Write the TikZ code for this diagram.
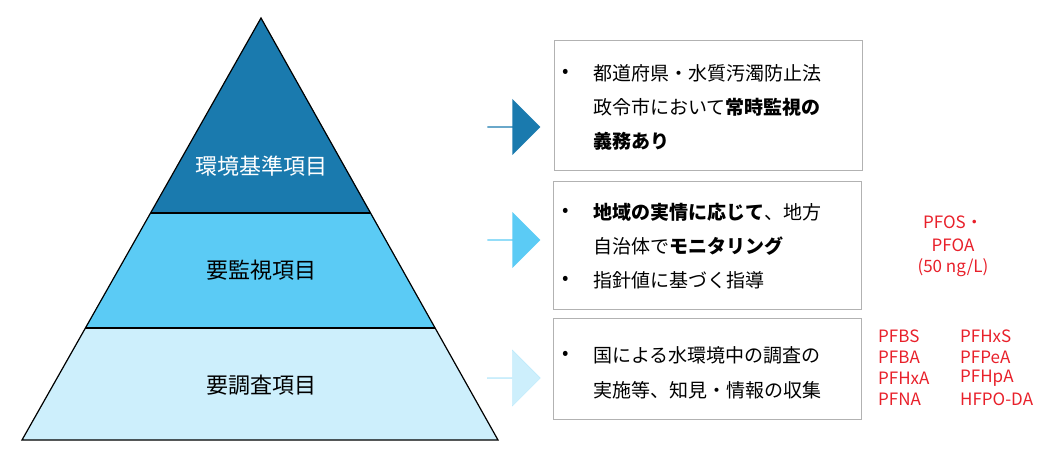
\documentclass[tikz,border=0pt]{standalone}
\usepackage{fontspec}
\setmainfont{Noto Sans CJK JP}
\usepackage{xcolor}
\usetikzlibrary{shapes.arrows}
\definecolor{tierA}{HTML}{1A7AAE}
\definecolor{tierB}{HTML}{5BCBF5}
\definecolor{tierC}{HTML}{CDEFFC}
\definecolor{pfred}{HTML}{E8202A}
\tikzset{
  tier/.style={draw=black,line width=1.2pt},
  infobox/.style={draw=black!30,line width=0.8pt},
  line/.style={anchor=west,inner sep=0pt,font=\fontsize{19}{19}\selectfont},
  tierlabel/.style={inner sep=0pt,font=\fontsize{22}{22}\selectfont},
  pf/.style={inner sep=0pt,text=pfred,font=\fontsize{17}{17}\selectfont},
  pfl/.style={pf,anchor=west},
  blockarrow/.style={single arrow,minimum height=53pt,minimum width=56pt,
    single arrow head extend=10pt,inner sep=0pt,draw=none}
}
\begin{document}
\begin{tikzpicture}[x=1pt,y=-1pt]
  \useasboundingbox (0,0) rectangle (1057,457);
  % pyramid
  \fill[tierC] (22,440) -- (498,440) -- (435,328) -- (85,328) -- cycle;
  \fill[tierB] (85,328) -- (435,328) -- (371,213) -- (151,213) -- cycle;
  \fill[tierA] (151,213) -- (371,213) -- (261,18) -- cycle;
  \draw[tier] (22,440) -- (498,440) -- (261,18) -- cycle;
  \draw[tier] (151,213) -- (371,213);
  \draw[tier] (85,328) -- (435,328);
  \node[tierlabel,text=white] (lblA) at (261,166) {環境基準項目};
  \node[tierlabel] (lblB) at (261,270) {要監視項目};
  \node[tierlabel] (lblC) at (261,385) {要調査項目};
  % arrows
  \node[blockarrow,fill=tierA] (arrA) at (513.5,127) {};
  \node[blockarrow,fill=tierB] (arrB) at (513.5,240) {};
  \node[blockarrow,fill=tierC,draw=tierB!40] (arrC) at (513.5,378) {};
  % boxes
  \draw[infobox] (554,40) rectangle (862,170);
  \draw[infobox] (553,181) rectangle (861,309);
  \draw[infobox] (553,318) rectangle (861,419);
  \node[line] (b1) at (562,73) {•};
  \node[line] (t1a) at (593,73) {都道府県・水質汚濁防止法};
  \node[line] (t1b) at (593,107) {政令市において\textbf{常時監視の}};
  \node[line] (t1c) at (593,141) {\textbf{義務あり}};
  \node[line] (b2) at (562,212) {•};
  \node[line] (t2a) at (593,212) {\textbf{地域の実情に応じて}、地方};
  \node[line] (t2b) at (593,246) {自治体で\textbf{モニタリング}};
  \node[line] (b3) at (562,280) {•};
  \node[line] (t2c) at (593,280) {指針値に基づく指導};
  \node[line] (b4) at (562,355) {•};
  \node[line] (t3a) at (593,355) {国による水環境中の調査の};
  \node[line] (t3b) at (593,390) {実施等、知見・情報の収集};
  % red substance lists
  \node[pf] (pfos) at (953,222) {PFOS・};
  \node[pf] (pfoa) at (953,245) {PFOA};
  \node[pf] (gv) at (953,268) {(50 ng/L)};
  \node[pfl] (s1) at (878,336) {PFBS};
  \node[pfl] (s2) at (878,357) {PFBA};
  \node[pfl] (s3) at (878,378) {PFHxA};
  \node[pfl] (s4) at (878,399) {PFNA};
  \node[pfl] (s5) at (960,336) {PFHxS};
  \node[pfl] (s6) at (960,357) {PFPeA};
  \node[pfl] (s7) at (960,378) {PFHpA};
  \node[pfl] (s8) at (960,399) {HFPO-DA};
\end{tikzpicture}
\end{document}
